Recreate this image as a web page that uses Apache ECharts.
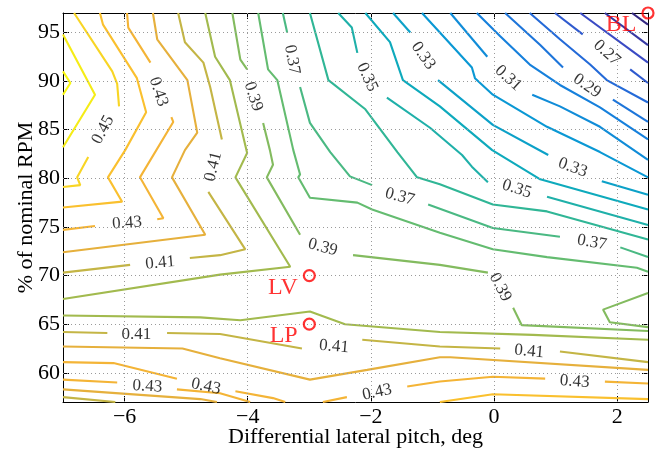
<!DOCTYPE html>
<html><head><meta charset="utf-8">
<script src="https://cdn.jsdelivr.net/npm/echarts@6/dist/echarts.min.js"></script>
<style>html,body{margin:0;padding:0;background:#fff}#chart{width:660px;height:454px}</style>
</head><body><div id="chart"></div>
<script>
// ---- axis data ----
const xRange = [-7, 2.5];
const yRange = [57, 97];
const xTicks = [-6, -4, -2, 0, 2];
const yTicks = [60, 65, 70, 75, 80, 85, 90, 95];
const xTitle = 'Differential lateral pitch, deg';
const yTitle = '% of nominal RPM';

// ---- contour polylines (x = deg, y = % RPM), one array per level ----
const c024 = [[[2.24,97],[2.5,95.8]]];
const c025 = [[[1.80,97],[2.5,93.7]]];
const c026 = [[[1.40,97],[2.5,91.9]]];
const c027 = [[[0.99,97],[1.44,94.8]], [[2.21,91.2],[2.5,89.8]]];
const c028 = [[[0.58,97],[1.07,94.3],[1.56,91.7],[1.83,90.1],[2.5,87.8]]];
const c029 = [[[0.18,97],[0.75,93.7],[1.12,91.4]], [[1.93,88.1],[2.5,85.8]]];
const c030 = [[[-0.28,97],[0.10,94.6],[0.58,91.7],[1.07,89.6],[1.72,87.3],[2.5,84.0]]];
const c031 = [[[-0.71,97],[-0.11,92.5]], [[0.62,88.6],[1.07,87.4],[1.72,85.3],[2.5,81.9]]];
const c032 = [[[-1.17,97],[-0.88,95.0],[-0.36,91.4],[-0.31,90.3],[-0.02,88.6],[0.86,85.3],[1.72,82.7],[2.5,80.1]]];
const c033 = [[[-1.64,97],[-1.36,95.0]], [[-0.91,90.1],[-0.02,85.5],[0.88,82.4]], [[1.75,79.7],[2.5,78.3]]];
const c034 = [[[-2.09,97],[-1.69,94.0],[-1.48,90.1],[-0.88,87.4],[-0.03,82.9],[0.75,79.9],[2.5,76.8]]];
const c035 = [[[-2.53,97],[-2.31,95.5],[-2.22,92.9]], [[-1.74,88.3],[-1.04,85.2],[-0.52,82.4],[-0.36,81.2],[-0.10,79.6]], [[0.86,78.1],[2.5,75.2]]];
const c036 = [[[-2.99,97],[-2.69,90.1],[-2.09,87.1],[-1.57,82.7],[-1.25,80.1],[-0.88,79.4],[-0.02,77.3],[0.86,76.6],[2.5,73.7]]];
const c037 = [[[-3.43,97],[-3.36,95.0]], [[-3.15,89.4],[-2.99,85.7],[-2.66,82.7],[-2.34,80.2],[-1.98,79.3]], [[-1.07,77.3],[-0.02,74.9],[1.07,74.0]], [[2.05,72.9],[2.5,71.9]]];
const c038 = [[[-3.83,97],[-3.67,91.2],[-3.52,90.1],[-3.26,82.9],[-3.15,80.4],[-3.18,80.1],[-2.99,78.0],[-2.22,77.5],[-1.98,76.8],[-0.88,74.4],[-0.02,72.7],[0.86,71.9],[2.32,70.8],[2.5,70.4]]];
const c039 = [[[-4.25,97],[-4.12,92.2],[-4.01,91.2]], [[-3.75,85.7],[-3.64,82.9],[-3.59,81.4],[-3.69,80.1],[-3.15,74.2]], [[-2.29,72.1],[-0.88,71.1],[-0.10,70.3]], [[0.31,66.7],[0.45,64.9],[2.5,64.3]], [[2.5,68.2],[1.77,66.5],[1.88,65.2],[2.5,64.7]]];
const c040 = [[[-4.69,97],[-4.53,92.5],[-4.29,90.1],[-4.01,82.6],[-4.20,80.1],[-3.31,70.9],[-4.45,70.1],[-7,67.6]], [[-7,65.9],[-4.77,65.7],[-4.12,65.4],[-2.99,66.3],[-2.42,65.0],[-0.88,64.2],[0.63,63.9],[2.5,63.4]]];
const c041 = [[[-5.13,97],[-5.02,94.0],[-4.72,91.9],[-4.61,89.4],[-4.42,84.0]], [[-4.64,78.6],[-4.04,72.7],[-4.45,72.1],[-4.94,71.8]], [[-5.91,71.1],[-7,70.3]], [[-7,64.2],[-6.28,64.1]], [[-5.31,64.1],[-4.45,64.0],[-3.12,62.5]], [[-2.14,63.4],[-0.88,62.7],[0.10,62.5]], [[1.07,62.2],[2.5,61.1]], [[-7,57.5],[-6.15,57]]];
const c042 = [[[-5.54,97],[-5.47,94.3],[-4.98,90.1],[-4.82,84.7],[-5.02,82.9],[-5.23,80.1],[-4.69,74.2],[-7,72.4]], [[-7,62.7],[-5.06,62.5],[-4.45,61.5],[-2.99,59.3],[-2.06,60.3],[-0.88,61.6],[-0.71,61.6],[2.5,60.3]], [[-7,58.3],[-4.77,57.3],[-4.50,57.0]]];
const c043 = [[[-5.96,97],[-5.94,95.5],[-5.58,91.9]], [[-5.24,86.3],[-5.21,85.8],[-5.75,80.1],[-5.37,75.9],[-5.47,75.8]], [[-6.48,75.1],[-7,74.7]], [[-7,61.1],[-6.18,61.0],[-5.15,59.4]], [[-4.20,58.1],[-3.59,57.4],[-3.39,57.0]], [[-7,59.3],[-6.12,59.0]], [[-5.15,58.3],[-4.45,57.9],[-3.96,57.0]], [[-2.78,57.0],[-2.39,57.5]], [[-1.41,58.6],[-0.88,59.1],[-0.02,59.6],[0.83,59.4]], [[1.80,59.1],[2.5,58.9]]];
const c044 = [[[-6.40,97],[-6.35,95.8],[-5.80,90.3],[-5.65,86.8],[-5.99,82.9],[-6.27,80.1],[-6.04,77.6],[-7,77.0]], [[-0.88,57.0],[-0.02,57.8],[2.5,57.3]]];
const c045 = [[[-6.82,97],[-6.20,91.0],[-6.12,89.7],[-6.09,87.4]], [[-6.59,82.2],[-6.77,80.1],[-6.72,79.3],[-7,79.1]]];
const c046 = [[[-7,94.8],[-6.48,88.6],[-7,83.2]]];
const c047 = [[[-7,91.0],[-6.88,89.8],[-7,88.6]]];

const levels = [0.24,0.25,0.26,0.27,0.28,0.29,0.30,0.31,0.32,0.33,0.34,0.35,0.36,0.37,0.38,0.39,0.40,0.41,0.42,0.43,0.44,0.45,0.46,0.47];
const levelLines = [c024,c025,c026,c027,c028,c029,c030,c031,c032,c033,c034,c035,c036,c037,c038,c039,c040,c041,c042,c043,c044,c045,c046,c047];

// contour labels: x, y, text, angle along the line
const contourLabels = [
  [-6.35,85.0,'0.45',62], [-5.45,88.9,'0.43',-72], [-5.96,75.4,'0.43',4],
  [-4.56,81.2,'0.41',76], [-5.42,71.3,'0.41',5], [-3.91,88.4,'0.39',-72],
  [-3.28,92.2,'0.37',-80], [-2.06,90.4,'0.35',-66], [-1.15,92.6,'0.33',-55],
  [0.23,90.3,'0.31',-42], [1.51,89.5,'0.29',-35], [1.83,92.9,'0.27',-42],
  [1.28,81.1,'0.33',-20], [0.37,78.9,'0.35',-18], [-1.53,78.1,'0.37',-15],
  [1.59,73.4,'0.37',-10], [-2.78,72.9,'0.39',-15], [0.10,68.8,'0.39',-62],
  [-5.81,63.9,'0.41',0], [-2.60,62.7,'0.41',-5], [0.57,62.2,'0.41',-5],
  [-5.63,58.6,'0.43',-3], [-4.68,58.6,'0.43',-12], [-1.90,58.0,'0.43',12],
  [1.31,59.1,'0.43',-4]
];

// marked operating points
const pointNames = ['LV', 'LP', 'BL'];
const pointX = [-3, -3, 2.5];
const pointY = [70, 65, 97];

// ---- styles ----
const FONT = 'Liberation Serif';
const cmap = [
  [0.24,[52,40,130]],[0.26,[58,74,196]],[0.28,[36,106,216]],[0.30,[22,128,220]],
  [0.32,[10,152,212]],[0.34,[14,170,188]],[0.36,[48,182,150]],[0.38,[100,188,112]],
  [0.40,[162,186,78]],[0.42,[230,176,60]],[0.43,[244,180,54]],[0.44,[250,192,46]],
  [0.45,[248,213,36]],[0.46,[245,236,22]],[0.47,[249,248,18]]
];
function levelColor(l) {
  for (let i = 0; i < cmap.length - 1; i++) {
    const a = cmap[i], b = cmap[i + 1];
    if (l >= a[0] - 1e-9 && l <= b[0] + 1e-9) {
      const t = (l - a[0]) / (b[0] - a[0]);
      const c = a[1].map((v, k) => Math.round(v + (b[1][k] - v) * t));
      return 'rgb(' + c.join(',') + ')';
    }
  }
  return 'rgb(' + cmap[cmap.length - 1][1].join(',') + ')';
}
const minus = v => String(v).replace('-', '\u2212');

const series = [];
// dotted grid
series.push({
  type: 'line', data: [], silent: true, z: 1,
  markLine: {
    silent: true, symbol: 'none', animation: false,
    label: { show: false },
    lineStyle: { type: [1, 3], color: '#9a9a9a', width: 1 },
    data: xTicks.map(v => ({ xAxis: v })).concat(yTicks.map(v => ({ yAxis: v })))
  }
});
levels.forEach((lvl, i) => {
  levelLines[i].forEach(seg => {
    series.push({
      type: 'line', data: seg, symbol: 'none', showSymbol: false, silent: true,
      smooth: false, z: 3, clip: true,
      lineStyle: { color: levelColor(lvl), width: 2.1 }
    });
  });
});
series.push({
  type: 'scatter', symbolSize: 1, silent: true, z: 4,
  itemStyle: { color: 'rgba(0,0,0,0)' },
  label: { show: true, position: 'inside', formatter: '{b}', color: '#000', fontFamily: FONT, fontSize: 17 },
  data: contourLabels.map(d => ({ name: d[2], value: [d[0], d[1]], label: { rotate: d[3] } }))
});
series.push({
  type: 'scatter', symbol: 'circle', symbolSize: 11, clip: false, silent: true, z: 6,
  itemStyle: { color: 'rgba(255,255,255,0)', borderColor: '#ff0000', borderWidth: 2.2 },
  label: { show: true, formatter: '{b}', position: 'left', distance: 5, offset: [0, 12],
           color: '#ff0000', fontFamily: FONT, fontSize: 24 },
  data: pointNames.map((n, i) => ({ name: n, value: [pointX[i], pointY[i]] }))
});

const axisText = { color: '#000', fontFamily: FONT, fontSize: 22 };
const chart = echarts.init(document.getElementById('chart'), null, { renderer: 'canvas' });
chart.setOption({
  animation: false,
  backgroundColor: '#fff',
  grid: { left: 63, right: 12, top: 13, bottom: 52, containLabel: false, outerBoundsMode: 'none' },
  xAxis: [{
    type: 'value', min: xRange[0], max: xRange[1], position: 'bottom',
    name: xTitle, nameLocation: 'middle', nameGap: 24, nameMoveOverlap: false,
    nameTextStyle: { color: '#000', fontFamily: FONT, fontSize: 22, verticalAlign: 'top' },
    axisLine: { show: true, onZero: false, lineStyle: { color: '#000', width: 1 } },
    axisTick: { show: true, inside: true, length: 6, customValues: xTicks, lineStyle: { color: '#000' } },
    axisLabel: Object.assign({ customValues: xTicks, formatter: minus, margin: 4 }, axisText),
    splitLine: { show: false }
  }, {
    type: 'value', min: xRange[0], max: xRange[1], position: 'top',
    axisLine: { show: true, onZero: false, lineStyle: { color: '#000', width: 1 } },
    axisTick: { show: true, inside: true, length: 6, customValues: xTicks, lineStyle: { color: '#000' } },
    axisLabel: { show: false }, splitLine: { show: false }
  }],
  yAxis: [{
    type: 'value', min: yRange[0], max: yRange[1], position: 'left',
    name: yTitle, nameLocation: 'middle', nameGap: 26, nameRotate: 90, nameMoveOverlap: false,
    nameTextStyle: { color: '#000', fontFamily: FONT, fontSize: 22 },
    axisLine: { show: true, onZero: false, lineStyle: { color: '#000', width: 1 } },
    axisTick: { show: true, inside: true, length: 6, customValues: yTicks, lineStyle: { color: '#000' } },
    axisLabel: Object.assign({ customValues: yTicks, margin: 3 }, axisText),
    splitLine: { show: false }
  }, {
    type: 'value', min: yRange[0], max: yRange[1], position: 'right',
    axisLine: { show: true, onZero: false, lineStyle: { color: '#000', width: 1 } },
    axisTick: { show: true, inside: true, length: 6, customValues: yTicks, lineStyle: { color: '#000' } },
    axisLabel: { show: false }, splitLine: { show: false }
  }],
  series: series
});
</script></body></html>
